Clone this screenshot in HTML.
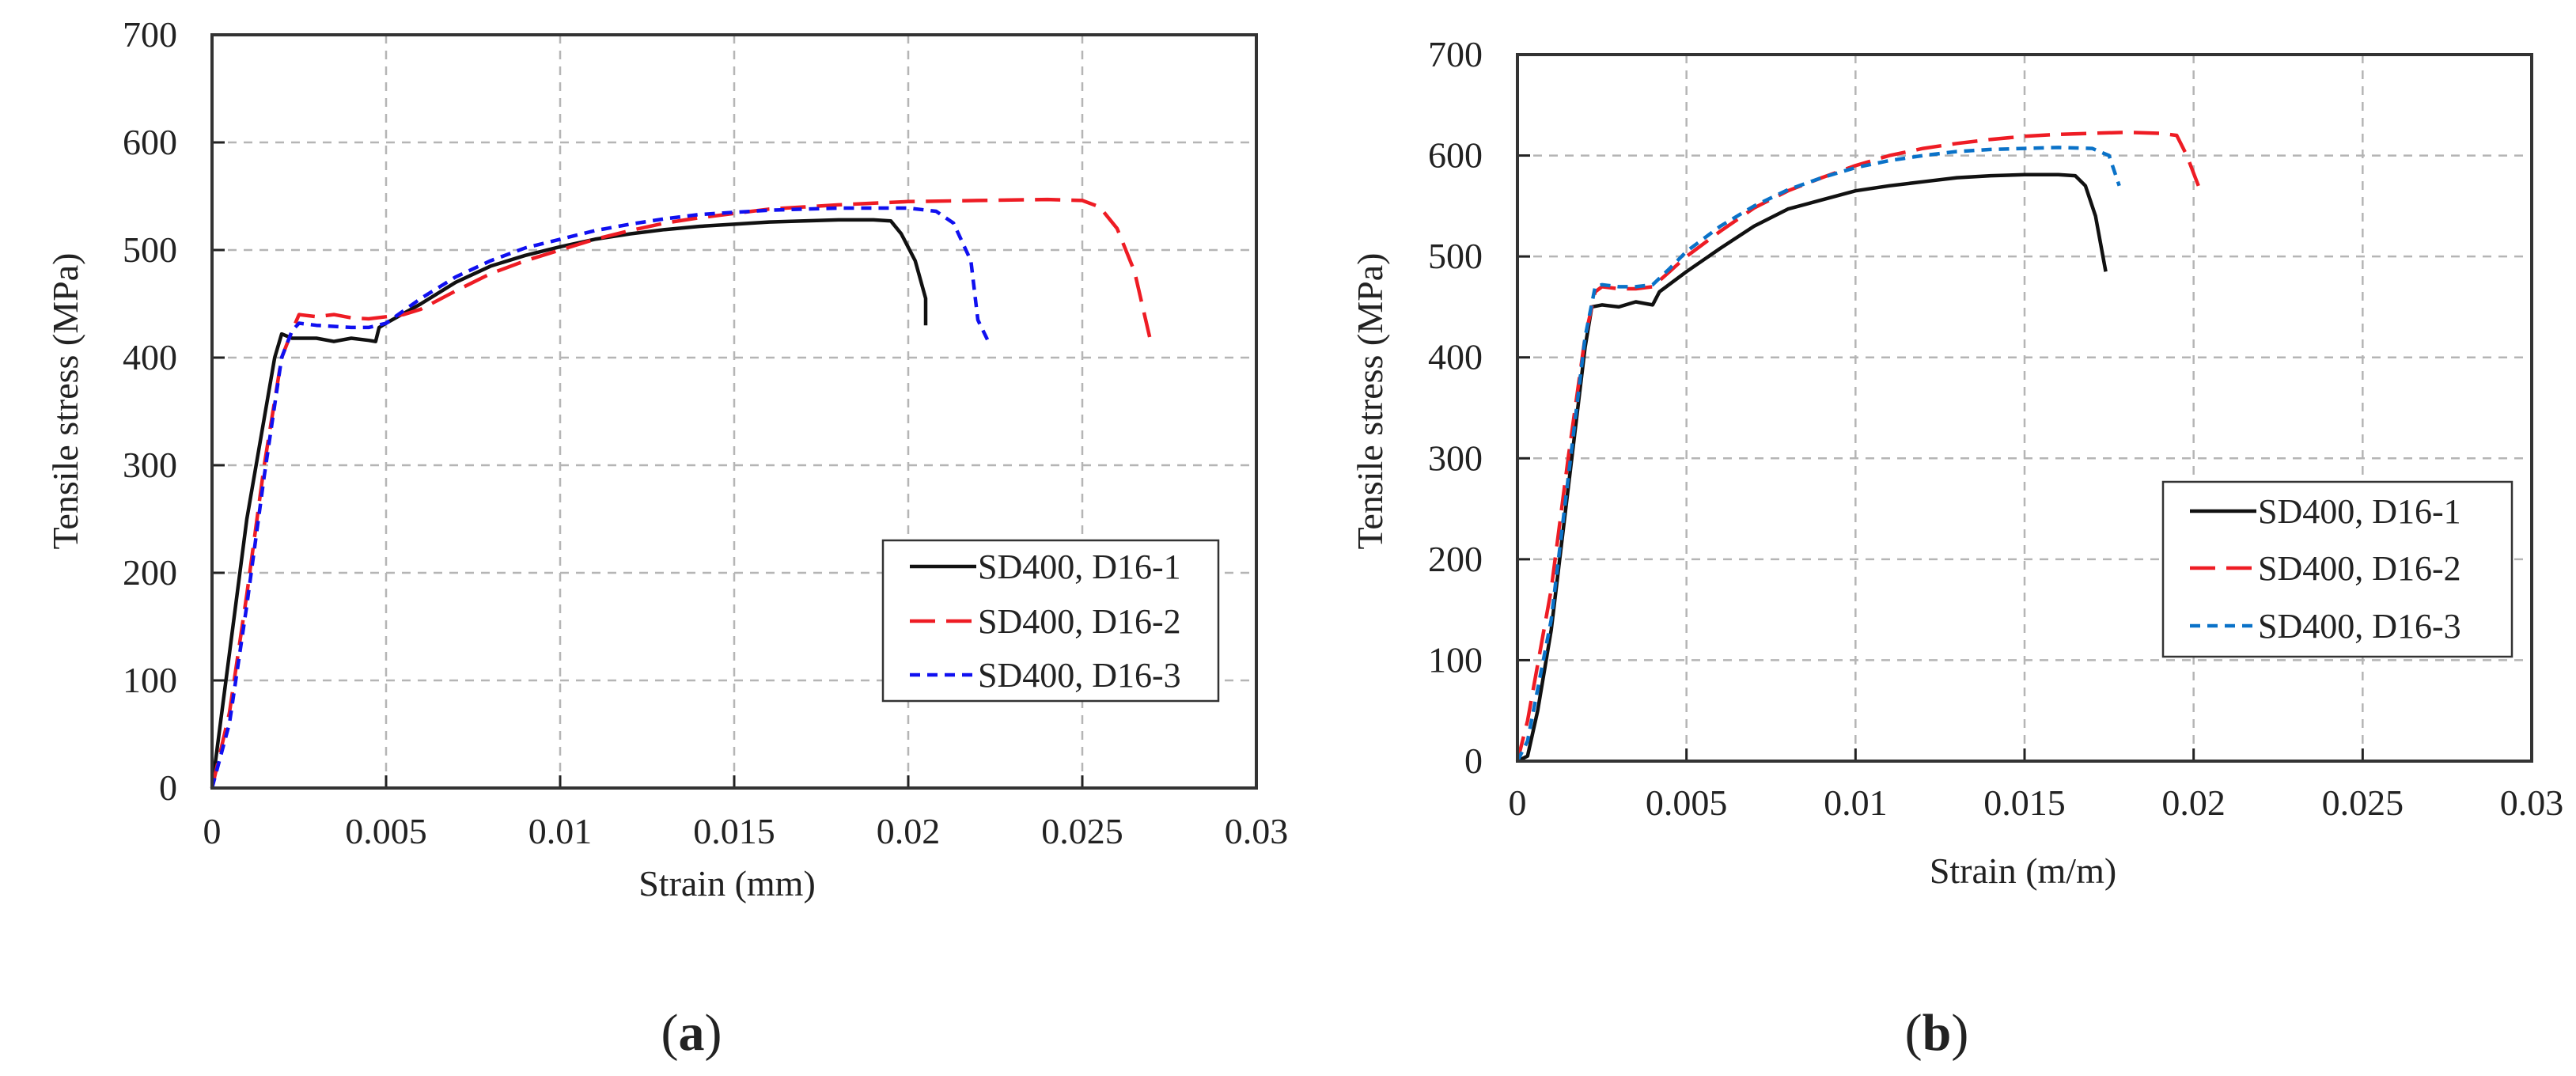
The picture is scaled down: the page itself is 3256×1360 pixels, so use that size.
<!DOCTYPE html>
<html><head><meta charset="utf-8"><style>
html,body{margin:0;padding:0;background:#fff;}
svg{display:block;}
text{font-family:"Liberation Serif",serif;fill:#222;}
</style></head><body>
<svg id="fig" width="3256" height="1360" viewBox="0 0 3256 1360" xmlns="http://www.w3.org/2000/svg"></svg>
<script>
const xTicks=[0,0.005,0.01,0.015,0.02,0.025,0.03];
const xTickLabels=["0","0.005","0.01","0.015","0.02","0.025","0.03"];
const yTicks=[0,100,200,300,400,500,600,700];
const seriesNames=["SD400, D16-1","SD400, D16-2","SD400, D16-3"];
const a1x=[0,0.0002,0.001,0.0018,0.002,0.0023,0.003,0.0035,0.004,0.0045,0.0047,0.0048,0.005,0.006,0.007,0.008,0.009,0.01,0.011,0.012,0.013,0.014,0.015,0.016,0.017,0.018,0.019,0.0195,0.0198,0.0202,0.0205,0.0205];
const a1y=[0,50,250,400,422,418,418,415,418,416,415,428,432,450,470,485,495,503,510,515,519,522,524,526,527,528,528,527,515,490,455,430];
const a2x=[0,0.0005,0.001,0.0015,0.002,0.0023,0.0025,0.003,0.0035,0.004,0.0045,0.005,0.0055,0.006,0.007,0.008,0.009,0.01,0.011,0.012,0.013,0.014,0.015,0.016,0.018,0.02,0.022,0.024,0.025,0.0255,0.026,0.0265,0.027];
const a2y=[0,70,180,300,400,425,440,438,440,437,436,438,440,445,462,478,490,500,510,518,525,530,534,538,542,545,546,547,546,540,520,480,410];
const a3x=[0,0.0005,0.001,0.0015,0.002,0.0023,0.0025,0.003,0.004,0.0045,0.005,0.006,0.007,0.008,0.009,0.01,0.011,0.012,0.013,0.014,0.015,0.016,0.017,0.018,0.019,0.02,0.0208,0.0213,0.0218,0.022,0.0223];
const a3y=[0,60,170,290,400,425,432,430,428,428,432,455,475,490,502,510,518,524,529,533,535,537,538,539,539,539,536,525,490,435,415];
const b1x=[0,0.0003,0.0006,0.001,0.0015,0.002,0.0022,0.0025,0.003,0.0035,0.004,0.0042,0.005,0.006,0.007,0.008,0.009,0.01,0.011,0.012,0.013,0.014,0.015,0.016,0.0165,0.0168,0.0171,0.0174];
const b1y=[0,5,50,130,270,410,450,452,450,455,452,465,485,508,530,547,556,565,570,574,578,580,581,581,580,570,540,485];
const b2x=[0,0.0003,0.001,0.0015,0.002,0.0023,0.0025,0.003,0.0035,0.004,0.0045,0.005,0.006,0.007,0.008,0.009,0.01,0.011,0.012,0.013,0.014,0.015,0.016,0.017,0.018,0.019,0.0195,0.0198,0.0202];
const b2y=[0,40,170,300,420,465,470,468,468,470,485,500,525,548,565,578,590,600,607,612,616,619,621,622,623,622,620,600,565];
const b3x=[0,0.0003,0.001,0.0015,0.002,0.0023,0.0025,0.003,0.0035,0.004,0.0045,0.005,0.006,0.007,0.008,0.009,0.01,0.011,0.012,0.013,0.014,0.015,0.016,0.017,0.0175,0.0178];
const b3y=[0,20,140,280,420,470,472,470,470,472,488,505,530,550,566,578,588,595,600,604,606,607,608,607,600,570];

const NS="http://www.w3.org/2000/svg";
const svg=document.getElementById('fig');
function mk(tag,attrs,parent){const e=document.createElementNS(NS,tag);for(const k in attrs)e.setAttribute(k,attrs[k]);(parent||svg).appendChild(e);return e;}

function panel(p){
  const g=mk('g',{});
  
  
  const sx=v=>p.L+(v-0)/(0.03)*(p.R-p.L);
  const sy=v=>p.B-(v/700)*(p.B-p.T);
  xTicks.forEach((t,i)=>{
    if(i>0&&i<xTicks.length-1){const l=mk('line',{x1:sx(t),x2:sx(t),y1:p.T,y2:p.B,stroke:'#b5b5b5','stroke-width':2.5,'stroke-dasharray':'11,9'},g);
    
    
    const tk=mk('line',{x1:sx(t),x2:sx(t),y1:p.B-16,y2:p.B,stroke:'#222','stroke-width':3},g);
    
    }
    const tx=mk('text',{x:sx(t),y:p.B+p.xtOff,'text-anchor':'middle','font-size':46},g);
    tx.textContent=xTickLabels[i];
    
    
  });
  yTicks.forEach(t=>{
    if(t>0&&t<700){const l=mk('line',{x1:p.L,x2:p.R,y1:sy(t),y2:sy(t),stroke:'#b5b5b5','stroke-width':2.5,'stroke-dasharray':'11,9'},g);
    
    
    const tk=mk('line',{x1:p.L,x2:p.L+16,y1:sy(t),y2:sy(t),stroke:'#222','stroke-width':3},g);
    
    }
    const tx=mk('text',{x:p.L-44,y:sy(t)+15,'text-anchor':'end','font-size':46},g);
    tx.textContent=String(t);
    
    
  });
  const styles=[{c:'#111',d:'none'},{c:'#ee1c24',d:'32,14'},{c:p.blue,d:'13,9'}];
  p.series.forEach((s,i)=>{
    const pts=s[0].map((x,j)=>sx(x).toFixed(1)+','+sy(s[1][j]).toFixed(1)).join(' ');
    const pl=mk('polyline',{points:pts,fill:'none',stroke:styles[i].c,'stroke-width':4.5,'stroke-dasharray':styles[i].d,'stroke-linejoin':'round'},g);
    
    
  });
  const fr=mk('rect',{x:p.L,y:p.T,width:p.R-p.L,height:p.B-p.T,fill:'none',stroke:'#333','stroke-width':4},g);
  
  
  const lg=mk('g',{},g);
  
  
  mk('rect',{x:p.lg.x,y:p.lg.y,width:p.lg.w,height:p.lg.h,fill:'#fff',stroke:'#333','stroke-width':2.5},lg);
  seriesNames.forEach((n,i)=>{
    const yy=p.lg.ey[i];
    const ln=mk('line',{x1:p.lg.x+34,x2:p.lg.x+118,y1:yy,y2:yy,stroke:styles[i].c,'stroke-width':4.5,'stroke-dasharray':styles[i].d},lg);
    
    
    const tx=mk('text',{x:p.lg.x+120,y:yy+15,'font-size':44},lg);
    tx.textContent=n;
    
    
  });
  const xt=mk('text',{x:p.xtitle[0],y:p.xtitle[1]+15,'text-anchor':'middle','font-size':46},g);
  xt.textContent=p.xlabel;
  
  
  const yt=mk('text',{x:0,y:0,'text-anchor':'middle','font-size':46,transform:'translate('+(p.ytitle[0]+15)+','+p.ytitle[1]+') rotate(-90)'},g);
  yt.textContent='Tensile stress (MPa)';
  
  
  const cap=mk('text',{x:p.cap[0],y:p.cap[1]+22,'text-anchor':'middle','font-size':66},g);
  cap.innerHTML='(<tspan font-weight="bold">'+p.capLetter+'</tspan>)';
  
  
}
panel({id:'panel-a',L:268,R:1588,T:44,B:996,xtOff:70,blue:'#1010f0',
  series:[[a1x,a1y],[a2x,a2y],[a3x,a3y]],
  lg:{x:1116,y:683,w:424,h:203,ey:[716,785,853]},
  xlabel:'Strain (mm)',xtitle:[919,1117],ytitle:[83,507],cap:[874,1305],capLetter:'a'});
panel({id:'panel-b',L:1918,R:3200,T:69,B:962,xtOff:68,blue:'#0a72c8',
  series:[[b1x,b1y],[b2x,b2y],[b3x,b3y]],
  lg:{x:2734,y:609,w:441,h:221,ey:[646,718,791]},
  xlabel:'Strain (m/m)',xtitle:[2557,1101],ytitle:[1732,507],cap:[2448,1305],capLetter:'b'});
</script>
</body></html>
